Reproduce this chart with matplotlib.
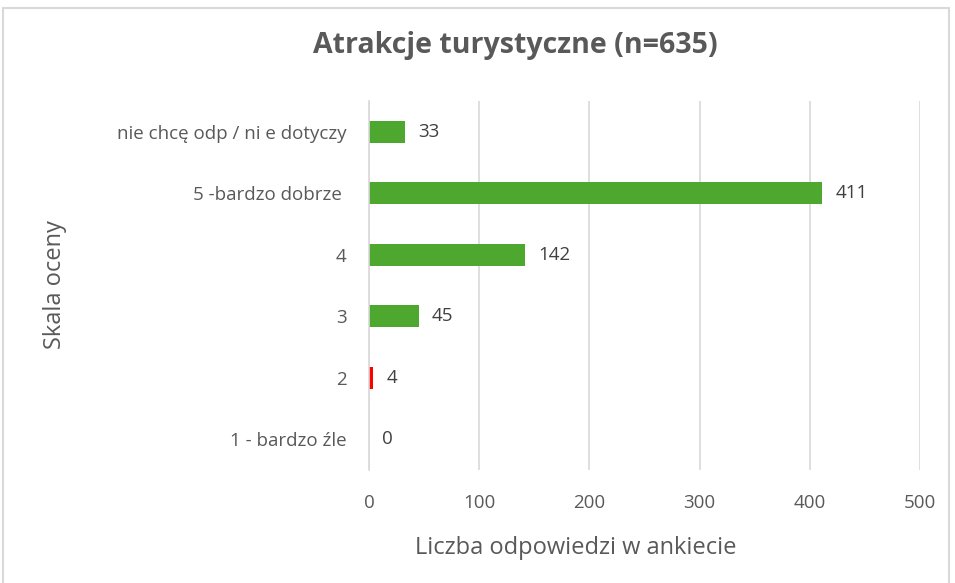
import matplotlib.pyplot as plt
from matplotlib.patches import Rectangle

categories = ['1 - bardzo źle', '2', '3', '4', '5 -bardzo dobrze ', 'nie chcę odp / ni e dotyczy']
values = [0, 4, 45, 142, 411, 33]
colors = ['#4ea72e', '#ff0000', '#4ea72e', '#4ea72e', '#4ea72e', '#4ea72e']
xticks = [0, 100, 200, 300, 400, 500]

plt.rcParams['font.family'] = ['Open Sans', 'DejaVu Sans']
txt = '#595959'

fig = plt.figure(figsize=(9.55, 5.83), dpi=100)
ax = fig.add_axes([369 / 955, 1 - 470 / 583, (920 - 369) / 955, (470 - 101) / 583])

# frame around the chart
fig.patches.append(Rectangle((3 / 955, -0.02), 946 / 955, 1 - 8 / 583 + 0.02,
                             transform=fig.transFigure, fill=False,
                             edgecolor='#d9d9d9', linewidth=1.5))

y = range(len(categories))
ax.barh(y, values, height=0.35, color=colors, zorder=3)
for i, v in enumerate(values):
    ax.text(v + 12, i, str(v), va='center', ha='left', fontsize=13.5, color='#404040')

ax.set_xlim(0, 500)
ax.set_ylim(-0.5, len(categories) - 0.5)
ax.set_xticks(xticks)
ax.set_yticks(list(y))
ax.set_yticklabels(categories)
ax.tick_params(axis='both', length=0, labelsize=13.5, labelcolor=txt)
ax.tick_params(axis='y', pad=16)
ax.tick_params(axis='x', pad=17)
ax.xaxis.grid(True, color='#d9d9d9', linewidth=1.2, zorder=0)
for s in ['top', 'right', 'bottom']:
    ax.spines[s].set_visible(False)
ax.spines['left'].set_color('#d9d9d9')
ax.spines['left'].set_linewidth(1.2)
ax.spines['left'].set_zorder(4)

fig.text(576 / 955, 1 - 548 / 583, 'Liczba odpowiedzi w ankiecie', fontsize=17,
         color=txt, ha='center', va='center')
fig.text(55 / 955, 1 - 285 / 583, 'Skala oceny', rotation=90, fontsize=17,
         color=txt, ha='center', va='center')
fig.text(515 / 955, 1 - 45 / 583, 'Atrakcje turystyczne (n=635)', fontsize=20.5,
         fontweight='bold', color=txt, ha='center', va='center')

fig.savefig('out.png', dpi=100, facecolor='white')
